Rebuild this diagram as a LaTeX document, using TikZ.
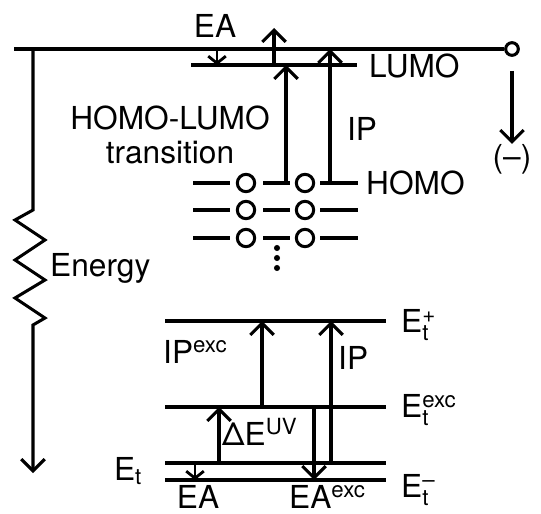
\documentclass[tikz,border=0pt]{standalone}
\usepackage{fontspec}
\setmainfont{TeX Gyre Heros}
\usetikzlibrary{arrows.meta}
\newcommand\lblfont{\fontsize{27}{29}\selectfont}
\newcommand\smfont{\fontsize{19}{19}\selectfont}
\newcommand\upper[1]{$^{\hbox{\smfont #1}}$}
\newcommand\lvl[2]{E$^{\hbox{\smfont #1}}_{\hbox{\smfont #2}}$}
\tikzset{
  level/.style={line width=2.8pt},
  trans/.style={line width=2.6pt, -{Straight Barb[length=10pt,width=20pt,line width=2.6pt]}},
  short/.style={line width=2.4pt, -{Straight Barb[length=6pt,width=15pt,line width=2.4pt]}},
  orb/.style={circle, draw, line width=2.6pt, minimum size=0.52cm, inner sep=0pt},
  txt/.style={font=\lblfont, inner sep=0pt}
}
\begin{document}
\begin{tikzpicture}[x=0.03cm, y=-0.03cm]
  \useasboundingbox (0,0) rectangle (541,514);

  % vacuum level and energy axis
  \node[orb, minimum size=0.38cm] (vac) at (512,49) {};
  \coordinate (vacL) at (14,49);
  \coordinate (ax) at (33,49);
  \coordinate (axEnd) at (33,473);
  \draw[level] (vacL) -- (vac);
  \draw[trans] (ax) -- (33,210) -- (15,220) -- (45,240) -- (15,260) -- (45,280)
    -- (15,298) -- (45,318) -- (33,325) -- (axEnd);
  \node[txt, anchor=west] (energy) at (50,268) {Energy};
  \coordinate (neg) at (512,71);
  \node[txt] (minus) at (512,159) {(--)};
  \draw[trans] (neg) -- (minus.north);

  % molecule: LUMO and HOMO
  \coordinate (lumoL) at (191,65);
  \coordinate (lumoR) at (357,65);
  \draw[level] (lumoL) -- (lumoR);
  \node[txt, anchor=west] (lumo) at (369,66) {LUMO};
  \node[txt] (eaTop) at (215,26) {EA};
  \coordinate (eaX) at (217,49);
  \coordinate (upX) at (274,28);
  \coordinate (hlX) at (286,183);
  \coordinate (ipX) at (330,183);
  \draw[short] (eaX) -- (eaX |- lumoL);
  \draw[trans] (upX |- lumoL) -- (upX);
  \draw[trans] (hlX) -- (hlX |- lumoL);
  \draw[trans] (ipX) -- (ipX |- vacL);
  \node[txt, align=center] (hlt) at (170,135) {HOMO-LUMO\\transition};
  \node[txt] (ipTop) at (362,129) {IP};

  % occupied orbitals
  \foreach \y [count=\i] in {183,210,238} {
    \node[orb] (a\i) at (246,\y) {};
    \node[orb] (b\i) at (305,\y) {};
    \draw[level] (193,\y) -- (230,\y);
    \draw[level] (263,\y) -- (290,\y);
    \draw[level] (320,\y) -- (358,\y);
  }
  \node[txt, anchor=west] (homo) at (366,183) {HOMO};
  \foreach \y in {248,258,268}
    \fill (277,\y) circle (2.6pt);

  % solid state levels
  \coordinate (eplus) at (165,321);
  \coordinate (eexc) at (165,407);
  \coordinate (et) at (165,463);
  \coordinate (eminus) at (165,480);
  \foreach \c in {eplus,eexc,et,eminus}
    \draw[level] (\c) -- ++(221,0);
  \node[txt, anchor=west] (lp) at (401,325) {\lvl{+}{t}};
  \node[txt, anchor=west] (lx) at (401,410) {\lvl{exc}{t}};
  \node[txt, anchor=west] (lm) at (401,490) {\lvl{--}{t}};
  \node[txt] (lt) at (128,471) {E$_{\hbox{\smfont t}}$};

  \coordinate (ipExcX) at (262,0);
  \coordinate (ipBX) at (331,0);
  \coordinate (uvX) at (219,0);
  \coordinate (eaExcX) at (314,0);
  \coordinate (eaBX) at (195,0);
  \draw[trans] (ipExcX |- eexc) -- (ipExcX |- eplus);
  \draw[trans] (ipBX |- et) -- (ipBX |- eplus);
  \draw[trans] (uvX |- et) -- (uvX |- eexc);
  \draw[trans] (eaExcX |- eexc) -- (eaExcX |- eminus);
  \draw[short] (eaBX |- et) -- (eaBX |- eminus);

  \node[txt, anchor=west] (ipExc) at (163,352) {IP\upper{exc}};
  \node[txt, anchor=west] (ipB) at (338,358) {IP};
  \node[txt, anchor=west] (uv) at (222,432) {ΔE\upper{UV}};
  \node[txt, anchor=base] (eaB) at (198,508) {EA};
  \node[txt, anchor=base west] (eaExc) at (289,508) {EA\upper{exc}};
\end{tikzpicture}
\end{document}
